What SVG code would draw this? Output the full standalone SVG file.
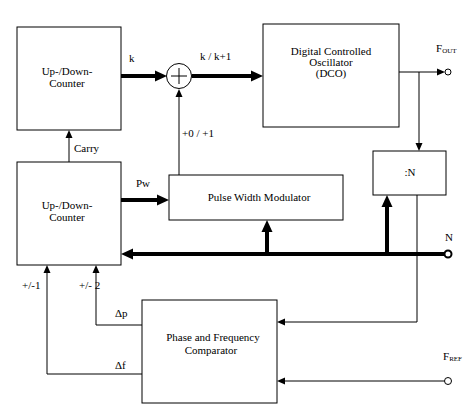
<svg xmlns="http://www.w3.org/2000/svg" width="467" height="415" viewBox="0 0 467 415">
<defs>
<style>
.box{fill:#fff;stroke:#000;stroke-width:1}
.t{font-family:"Liberation Serif","Times New Roman",serif;font-size:11px;fill:#000}
.c{text-anchor:middle}
.thin{fill:none;stroke:#000;stroke-width:1}
.thick{fill:none;stroke:#000;stroke-width:4}
.sub{font-size:7px}
</style>
<marker id="ah" markerUnits="userSpaceOnUse" markerWidth="8" markerHeight="7" refX="0" refY="3.5" orient="auto" overflow="visible">
<path d="M0,0 L8,3.5 L0,7 z" fill="#000"/>
</marker>
<marker id="ahT" markerUnits="userSpaceOnUse" markerWidth="12" markerHeight="11" refX="0" refY="5.5" orient="auto" overflow="visible">
<path d="M0,0 L12,5.5 L0,11 z" fill="#000"/>
</marker>
</defs>
<rect width="467" height="415" fill="#fff"/>

<g id="connectors">
<line class="thick" x1="121" y1="76" x2="155" y2="76" marker-end="url(#ahT)"/>
<line class="thick" x1="191.5" y1="76" x2="251" y2="76" marker-end="url(#ahT)"/>
<line class="thin" x1="69" y1="162" x2="69" y2="138" marker-end="url(#ah)"/>
<line class="thin" x1="179" y1="175" x2="179" y2="97" marker-end="url(#ah)"/>
<line class="thick" x1="121" y1="200" x2="157" y2="200" marker-end="url(#ahT)"/>
<line class="thick" x1="444.5" y1="254" x2="133" y2="254" marker-end="url(#ahT)"/>
<line class="thick" x1="267" y1="254" x2="267" y2="232" marker-end="url(#ahT)"/>
<line class="thick" x1="387" y1="254" x2="387" y2="207" marker-end="url(#ahT)"/>
<line class="thin" x1="399" y1="72" x2="437" y2="72" marker-end="url(#ah)"/>
<line class="thin" x1="419" y1="72" x2="419" y2="143" marker-end="url(#ah)"/>
<polyline class="thin" points="417,195 417,322 285,322" marker-end="url(#ah)"/>
<line class="thin" x1="444.5" y1="381" x2="285" y2="381" marker-end="url(#ah)"/>
<polyline class="thin" points="142,325 96,325 96,273" marker-end="url(#ah)"/>
<polyline class="thin" points="142,374 47,374 47,273" marker-end="url(#ah)"/>
<text class="t" x="129" y="62">k</text>
<text class="t" x="200" y="60">k / k+1</text>
<text class="t" x="74" y="152">Carry</text>
<text class="t" x="182" y="137">+0 / +1</text>
<text class="t" x="136" y="187">Pw</text>
<text class="t" x="22" y="289">+/-1</text>
<text class="t" x="79" y="289">+/- 2</text>
<text class="t" x="115" y="317">Δp</text>
<text class="t" x="115" y="369">Δf</text>
</g>

<g id="counter-top">
<rect class="box" x="17" y="27" width="104" height="103"/>
<text class="t c" x="67" y="75">Up-/Down-</text>
<text class="t c" x="67" y="87">Counter</text>
</g>

<g id="counter-bottom">
<rect class="box" x="17" y="162" width="104" height="103"/>
<text class="t c" x="67" y="209">Up-/Down-</text>
<text class="t c" x="67" y="221">Counter</text>
</g>

<g id="adder">
<circle cx="179" cy="76" r="12.5" fill="#fff" stroke="#000" stroke-width="1"/>
<path d="M171,76 H187 M179,68 V84" stroke="#000" stroke-width="1"/>
</g>

<g id="dco">
<rect class="box" x="263" y="24" width="136" height="103"/>
<text class="t c" x="331" y="55">Digital Controlled</text>
<text class="t c" x="331" y="66">Oscillator</text>
<text class="t c" x="331" y="77">(DCO)</text>
</g>

<g id="divider">
<rect class="box" x="373" y="151" width="73" height="44"/>
<text class="t c" x="410" y="176">:N</text>
</g>

<g id="pwm">
<rect class="box" x="169" y="175" width="174" height="45"/>
<text class="t c" x="259" y="201">Pulse Width Modulator</text>
</g>

<g id="comparator">
<rect class="box" x="142" y="300" width="135" height="103"/>
<text class="t c" x="213" y="341">Phase and Frequency</text>
<text class="t c" x="211" y="354">Comparator</text>
</g>

<g id="port-fout">
<circle cx="448" cy="72" r="3" fill="#fff" stroke="#000" stroke-width="1"/>
<text class="t" x="436" y="52">F<tspan class="sub" dy="1">OUT</tspan></text>
</g>

<g id="port-n">
<circle cx="448" cy="254" r="3.5" fill="#fff" stroke="#000" stroke-width="2"/>
<text class="t c" x="449" y="241">N</text>
</g>

<g id="port-fref">
<circle cx="448" cy="381" r="3.5" fill="#fff" stroke="#000" stroke-width="1"/>
<text class="t" x="443" y="360">F<tspan class="sub" dy="1">REF</tspan></text>
</g>
</svg>
